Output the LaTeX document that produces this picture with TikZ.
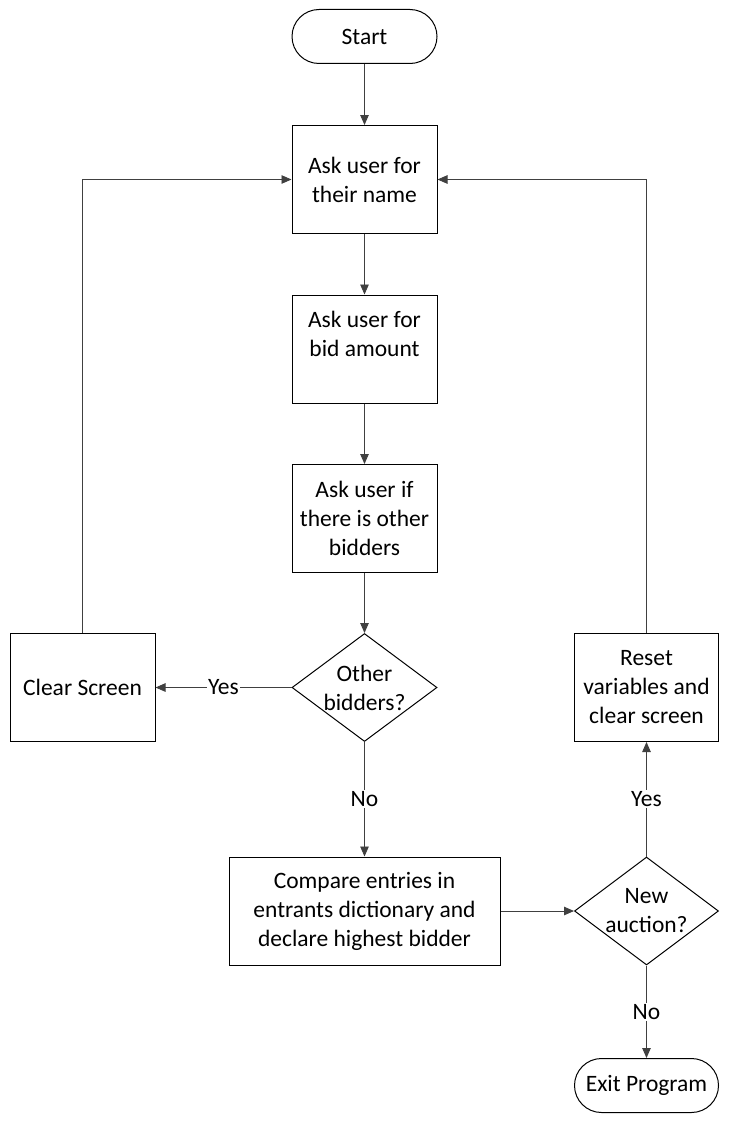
\documentclass[tikz,border=0pt]{standalone}
\usepackage{fontspec}
\setmainfont{Carlito}
\usetikzlibrary{shapes.geometric,arrows.meta}
\begin{document}
\begin{tikzpicture}[x=1pt,y=-1pt,
  every node/.style={font=\fontsize{23.5}{29}\selectfont, text=black},
  procbox/.style={draw=black, line width=1pt, fill=white, minimum width=145pt, minimum height=108pt, inner sep=0pt, align=center},
  termbox/.style={draw=black, line width=1pt, fill=white, rounded corners=27pt, minimum width=145pt, minimum height=54pt, inner sep=0pt, align=center},
  decbox/.style={draw=black, line width=1pt, fill=white, diamond, minimum width=145pt, minimum height=108pt, inner sep=0pt},
  conn/.style={draw=black!75, line width=0.9pt, -{Triangle[length=10pt,width=8.5pt]}},
  lbl/.style={fill=white, inner sep=1.5pt}
]
\useasboundingbox (0,0) rectangle (738,1124);
\fill[white] (0,0) rectangle (738,1124);

\node[termbox] (start) at (364.5,36.5) {Start};
\node[procbox] (name) at (364.5,179.5) {Ask user for\\their name};
\node[procbox] (bid) at (364.5,349) {Ask user for\\bid amount\\[-8pt]\strut};
\node[procbox] (other) at (364.5,518.5) {Ask user if\\there is other\\bidders};
\node[decbox] (d1) at (364.5,687.5) {};
\node[align=center] (d1t) at (d1) {Other\\bidders?};
\node[procbox] (clear) at (82.5,687.5) {Clear Screen};
\node[procbox, minimum width=271pt] (compare) at (364.5,911) {Compare entries in\\entrants dictionary and\\declare highest bidder};
\node[decbox, minimum width=144pt] (d2) at (646.5,911) {};
\node[align=center] (d2t) at (d2) {New\\auction?};
\node[procbox, minimum width=144pt] (reset) at (646.5,687.5) {Reset\\variables and\\clear screen};
\node[termbox, minimum width=144pt] (exit) at (646.5,1085.5) {Exit Program};

\draw[conn] (start) -- (name);
\draw[conn] (name) -- (bid);
\draw[conn] (bid) -- (other);
\draw[conn] (other) -- (d1);
\draw[conn] (d1) -- node[lbl] {Yes} (clear);
\draw[conn] (d1) -- node[lbl] {No} (compare);
\draw[conn] (clear.north) |- (name.west);
\draw[conn] (compare) -- (d2);
\draw[conn] (d2) -- node[lbl] {Yes} (reset);
\draw[conn] (reset.north) |- (name.east);
\draw[conn] (d2) -- node[lbl] {No} (exit);
\end{tikzpicture}
\end{document}
